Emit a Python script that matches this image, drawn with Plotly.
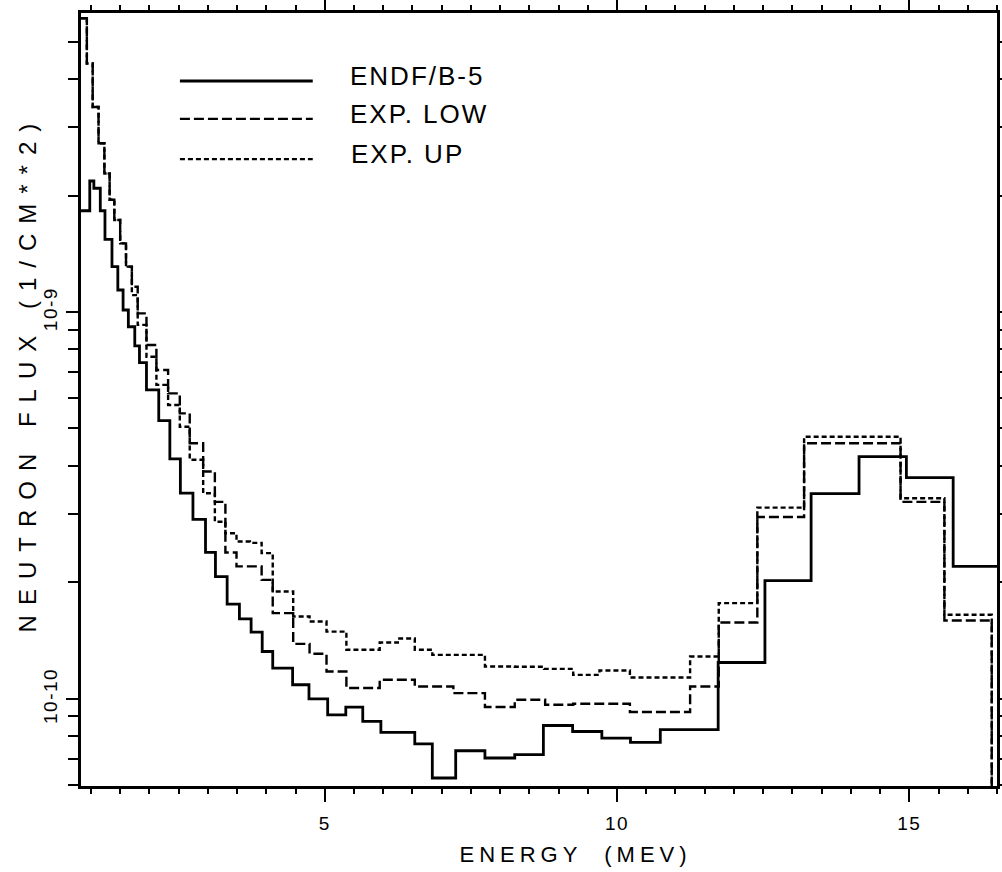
import math
import plotly.graph_objects as go

# ---------------- data ----------------
# ENDF/B-5 calculated spectrum: group boundaries (MeV) and flux (1/cm**2)
endf_edges = [0.83, 0.98, 1.05, 1.16, 1.24, 1.36, 1.46, 1.55, 1.64, 1.75,
              1.83, 1.95, 2.16, 2.35, 2.53, 2.745, 2.96, 3.13, 3.33, 3.54,
              3.74, 3.93, 4.11, 4.45, 4.73, 5.05, 5.36, 5.65, 5.96, 6.54,
              6.84, 7.24, 7.74, 8.25, 8.74, 9.24, 9.74, 10.23, 10.74, 11.73,
              12.53, 13.32, 14.14, 14.95, 15.75, 16.5]
endf_flux = [1.827e-9, 2.181e-9, 2.089e-9, 1.827e-9, 1.541e-9, 1.310e-9, 1.140e-9, 1.012e-9, 9.16e-10, 8.17e-10,
             7.40e-10, 6.29e-10, 5.24e-10, 4.17e-10, 3.40e-10, 2.91e-10, 2.39e-10, 2.07e-10, 1.757e-10, 1.609e-10,
             1.487e-10, 1.325e-10, 1.200e-10, 1.087e-10, 1.00e-10, 9.09e-11, 9.52e-11, 8.74e-11, 8.19e-11, 7.65e-11,
             6.24e-11, 7.34e-11, 7.03e-11, 7.17e-11, 8.53e-11, 8.23e-11, 7.91e-11, 7.71e-11, 8.32e-11, 1.241e-10,
             2.02e-10, 3.39e-10, 4.23e-10, 3.73e-10, 2.20e-10]

# Experiment, lower values
low_edges = [0.83, 0.93, 1.03, 1.13, 1.23, 1.32, 1.40, 1.50, 1.60, 1.70,
             1.80, 1.95, 2.12, 2.32, 2.52, 2.69, 2.92, 3.12, 3.30, 3.49,
             3.92, 4.11, 4.46, 4.74, 5.03, 5.37, 5.94, 6.54, 7.20, 7.74,
             8.25, 8.77, 9.25, 10.22, 11.25, 11.74, 12.40, 13.20, 14.85, 15.60,
             16.41]
low_flux = [5.75e-9, 4.39e-9, 3.39e-9, 2.73e-9, 2.28e-9, 1.95e-9, 1.73e-9, 1.505e-9, 1.31e-9, 1.162e-9,
            9.92e-10, 8.22e-10, 7.08e-10, 6.16e-10, 5.47e-10, 4.58e-10, 3.87e-10, 3.23e-10, 2.39e-10, 2.20e-10,
            2.03e-10, 1.665e-10, 1.387e-10, 1.307e-10, 1.176e-10, 1.066e-10, 1.12e-10, 1.076e-10, 1.034e-10, 9.52e-11,
            9.94e-11, 9.65e-11, 9.71e-11, 9.24e-11, 1.076e-10, 1.575e-10, 2.95e-10, 4.58e-10, 3.23e-10, 1.594e-10]

# Experiment, upper values
up_edges = [0.83, 0.93, 1.03, 1.13, 1.23, 1.32, 1.40, 1.50, 1.60, 1.70,
            1.80, 1.95, 2.12, 2.32, 2.52, 2.69, 2.92, 3.12, 3.30, 3.49,
            3.72, 3.92, 4.11, 4.46, 4.74, 5.03, 5.37, 5.94, 6.25, 6.54,
            6.84, 7.74, 8.25, 8.75, 9.25, 9.70, 10.22, 11.25, 11.74, 12.40,
            13.20, 14.85, 15.60, 16.41]
up_flux = [5.75e-9, 4.39e-9, 3.39e-9, 2.73e-9, 2.28e-9, 1.95e-9, 1.73e-9, 1.505e-9, 1.31e-9, 1.106e-9,
           9.26e-10, 7.66e-10, 6.48e-10, 5.75e-10, 5.05e-10, 4.15e-10, 3.40e-10, 2.87e-10, 2.68e-10, 2.55e-10,
           2.53e-10, 2.38e-10, 1.894e-10, 1.632e-10, 1.584e-10, 1.492e-10, 1.339e-10, 1.398e-10, 1.432e-10, 1.339e-10,
           1.299e-10, 1.212e-10, 1.210e-10, 1.195e-10, 1.153e-10, 1.183e-10, 1.135e-10, 1.286e-10, 1.767e-10, 3.12e-10,
           4.76e-10, 3.30e-10, 1.649e-10]

# flux beyond the last measured group (drops to zero -> off the log scale)
end_flux = 1e-12

series_names = ["ENDF/B-5", "EXP. LOW", "EXP. UP"]
x_tickvals = [5, 10, 15]
y_tickvals = [1e-10, 1e-9]
y_ticktext = ["10-10", "10-9"]
x_range = [0.83, 16.5]
y_range = [5.95e-11, 5.93e-9]
x_title = "ENERGY  (MEV)"
y_title = "NEUTRON FLUX (1/CM**2)"

# ---------------- figure ----------------
FONT = "Liberation Sans, Arial, sans-serif"


def steps(edges, vals, close=None):
    xs = list(edges)
    ys = list(vals) + [vals[-1]]
    if close is not None:
        xs.append(edges[-1])
        ys.append(close)
    return xs, ys


styles = [dict(color="black", width=2.8, dash="solid"),
          dict(color="black", width=2.4, dash="10px,4px"),
          dict(color="black", width=2.4, dash="5px,3px")]

fig = go.Figure()
for name, (e, v, c), st in zip(series_names,
                               [(endf_edges, endf_flux, None),
                                (low_edges, low_flux, end_flux),
                                (up_edges, up_flux, end_flux)],
                               styles):
    xs, ys = steps(e, v, c)
    fig.add_trace(go.Scatter(x=xs, y=ys, mode="lines", name=name,
                             line=dict(shape="hv", **st), showlegend=False))

minor_y = [k * 10.0 ** p for p in (-11, -10, -9) for k in range(2, 10)
           if y_range[0] <= k * 10.0 ** p <= y_range[1]]

fig.update_layout(
    width=1002, height=872,
    margin=dict(l=81, r=5, t=13, b=86, autoexpand=False),
    paper_bgcolor="white", plot_bgcolor="white",
    font=dict(family=FONT, color="black", size=18),
    showlegend=False,
    xaxis=dict(range=x_range, tickvals=x_tickvals, ticks="outside", ticklen=13, tickwidth=2,
               tickcolor="black", showline=True, linewidth=2.5, linecolor="black",
               mirror="allticks", showgrid=False, zeroline=False, automargin=False,
               tickfont=dict(size=19, family=FONT), ticklabelstandoff=5,
               minor=dict(dtick=0.5, tick0=0, ticks="outside", ticklen=5, tickwidth=2,
                          tickcolor="black", showgrid=False)),
    yaxis=dict(type="log", range=[math.log10(y_range[0]), math.log10(y_range[1])],
               tickvals=y_tickvals, ticktext=y_ticktext, tickangle=-90,
               ticks="outside", ticklen=12, tickwidth=2, tickcolor="black",
               showline=True, linewidth=2.5, linecolor="black", mirror="allticks",
               showgrid=False, zeroline=False, automargin=False,
               tickfont=dict(size=19, family=FONT), ticklabelstandoff=2,
               minor=dict(tickvals=minor_y, ticks="outside", ticklen=10, tickwidth=2,
                          tickcolor="black", showgrid=False)),
)

annotations = [
    dict(text=y_title, xref="paper", yref="paper", x=-0.059, y=0.535, textangle=-90,
         showarrow=False, xanchor="center", yanchor="middle", font=dict(size=24, family=FONT)),
    dict(text=x_title, xref="paper", yref="paper", x=0.54, y=-0.088,
         showarrow=False, xanchor="center", yanchor="middle", font=dict(size=22, family=FONT)),
]
legend_rows = [0.912, 0.863, 0.811]
shapes = []
for name, st, yr in zip(series_names, styles, legend_rows):
    shapes.append(dict(type="line", xref="paper", yref="paper", x0=0.108, x1=0.253,
                       y0=yr, y1=yr, line=dict(color="black", width=st["width"], dash=st["dash"])))
    annotations.append(dict(text=name, xref="paper", yref="paper", x=0.300, y=yr + 0.006,
                            showarrow=False, xanchor="left", yanchor="middle",
                            font=dict(size=26, family=FONT)))
fig.update_layout(annotations=annotations, shapes=shapes)

post = """
var gd = document.getElementById('{plot_id}');
function spacing(){
  var sp = {'0':'10px','1':'5px','2':'2px','3':'2px','4':'2px'};
  gd.querySelectorAll('g.annotation').forEach(function(g){
    var i = g.getAttribute('data-index');
    var t = g.querySelector('text');
    if (t && sp[i]) { t.style.letterSpacing = sp[i]; }
  });
  gd.querySelectorAll('.xtick text, .ytick text').forEach(function(t){ t.style.letterSpacing = '1.5px'; });
}
spacing();
gd.on('plotly_afterplot', spacing);
"""

fig.write_html("out.html", post_script=post)
